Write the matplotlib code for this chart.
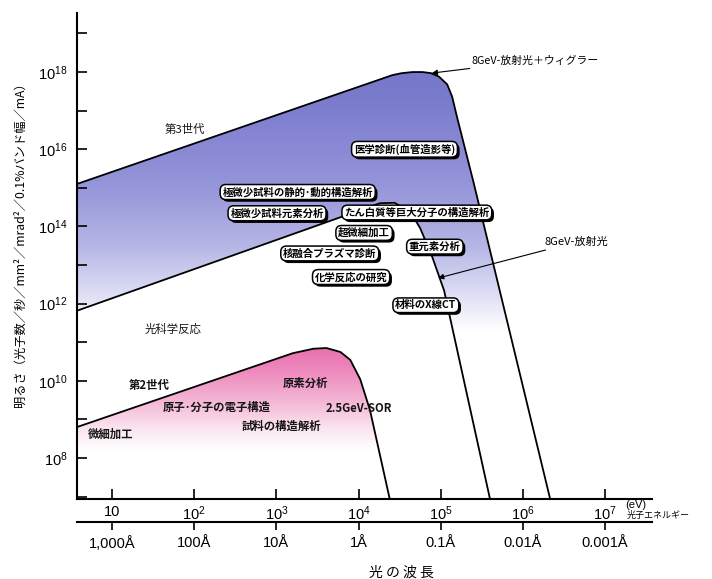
import numpy as np
import matplotlib
matplotlib.use("Agg")
import matplotlib.pyplot as plt
from matplotlib.patches import Polygon
from matplotlib import patheffects as pe
from matplotlib.ticker import FixedLocator, NullLocator

plt.rcParams['font.family'] = ['Noto Sans CJK JP', 'DejaVu Sans']
plt.rcParams['axes.unicode_minus'] = False

# ---------------- data ----------------
# 3rd generation: 8GeV radiation + wiggler (outer envelope)
gen3_outer_energy = [3.7, 25700, 33000, 45000, 60000, 75900, 95500, 120000, 138000, 158000, 191000, 251000, 2.29e6]
gen3_outer_bright = [1.25e15, 8.3e17, 9.3e17, 1.0e18, 1.0e18, 9.4e17, 7.6e17, 4.8e17, 2.3e17, 6.9e16, 1.4e16, 1.4e15, 5e6]
# 8GeV radiation (inner curve)
gen3_inner_energy = [3.7, 18200, 27500, 42700, 56200, 77600, 110000, 422000]
gen3_inner_bright = [6.5e11, 4.0e14, 4.1e14, 2.4e14, 9.1e13, 1.8e13, 2.2e12, 5e6]
# 2nd generation: 2.5GeV-SOR
gen2_energy = [3.7, 1580, 2820, 4070, 6030, 7940, 10500, 13800, 25700]
gen2_bright = [6.3e8, 5.2e10, 6.8e10, 7.1e10, 5.6e10, 3.5e10, 1.1e10, 1.74e9, 4.5e6]

energy_ticks = [1e1, 1e2, 1e3, 1e4, 1e5, 1e6, 1e7]
energy_labels = ['10', r'$\mathregular{10^2}$', r'$\mathregular{10^3}$', r'$\mathregular{10^4}$',
                 r'$\mathregular{10^5}$', r'$\mathregular{10^6}$', r'$\mathregular{10^7}$']
wavelength_labels = ['1,000Å', '100Å', '10Å', '1Å', '0.1Å', '0.01Å', '0.001Å']
bright_ticks = [1e7, 1e8, 1e9, 1e10, 1e11, 1e12, 1e13, 1e14, 1e15, 1e16, 1e17, 1e18, 1e19]
bright_labels = ['', r'$\mathregular{10^8}$', '', r'$\mathregular{10^{10}}$', '', r'$\mathregular{10^{12}}$', '',
                 r'$\mathregular{10^{14}}$', '', r'$\mathregular{10^{16}}$', '', r'$\mathregular{10^{18}}$', '']

boxed_labels = ['医学診断(血管造影等)', '極微少試料の静的･動的構造解析', '極微少試料元素分析',
                'たん白質等巨大分子の構造解析', '超微細加工', '核融合プラズマ診断', '重元素分析',
                '化学反応の研究', '材料のX線CT']
boxed_x = [36300, 1820, 1020, 51300, 11700, 4470, 85000, 8130, 66000]
boxed_y = [1.0e16, 7.8e14, 2.2e14, 2.3e14, 6.8e13, 2.0e13, 3.0e13, 4.9e12, 9.1e11]

plain_labels = ['第3世代', '光科学反応', '第2世代', '原素分析', '原子･分子の電子構造', '2.5GeV-SOR',
                '試料の構造解析', '微細加工']
plain_x = [77, 55, 28, 2290, 191, 10200, 1170, 9.5]
plain_y = [3.2e16, 2.2e11, 7.4e9, 8.7e9, 2.1e9, 1.9e9, 6.8e8, 4.2e8]
plain_bold = [False, False, True, True, True, True, True, True]

# ---------------- figure ----------------
W, H = 712, 579
fig = plt.figure(figsize=(W / 100, H / 100), dpi=100)
ax = fig.add_axes([77 / W, 1 - 499 / H, (652 - 77) / W, (499 - 13) / H])
ax.set_xscale('log')
ax.set_yscale('log')
xlo, xhi = 10 ** 0.574, 10 ** 7.572
ylo, yhi = 10 ** 6.94, 10 ** 19.53
ax.set_xlim(xlo, xhi)
ax.set_ylim(ylo, yhi)
ax.set_autoscale_on(False)


def gradient(stops, poly_x, poly_y):
    ly = np.log10(ylo) + np.linspace(0, 1, 400) * (np.log10(yhi) - np.log10(ylo))
    sl = np.array([s[0] for s in stops])
    cols = np.array([s[1] for s in stops], dtype=float) / 255.0
    rgb = np.stack([np.interp(ly, sl, cols[:, k]) for k in range(3)], axis=-1)
    img = rgb[:, None, :]
    patch = Polygon(np.column_stack([poly_x, poly_y]), closed=True, transform=ax.transData,
                    facecolor='none', edgecolor='none')
    ax.add_patch(patch)
    im = ax.imshow(img, extent=[0, 1, 0, 1], transform=ax.transAxes, origin='lower',
                   aspect='auto', interpolation='bilinear', zorder=1)
    im.set_clip_path(patch)


blue_stops = [(11.3, (255, 255, 255)), (12.3, (220, 220, 244)), (13.5, (182, 182, 230)),
              (15.0, (150, 150, 218)), (17.0, (126, 126, 207)), (18.5, (114, 114, 200))]
pink_stops = [(8.2, (255, 255, 255)), (8.8, (250, 226, 239)), (9.5, (244, 180, 212)),
              (10.3, (237, 135, 188)), (11.0, (230, 108, 172))]

gradient(blue_stops, gen3_outer_energy + gen3_inner_energy[::-1],
         gen3_outer_bright + gen3_inner_bright[::-1])
gradient(pink_stops, gen2_energy + [3.7], gen2_bright + [5e6])

for ex, by in [(gen3_outer_energy, gen3_outer_bright), (gen3_inner_energy, gen3_inner_bright),
               (gen2_energy, gen2_bright)]:
    ax.plot(ex, by, color='black', lw=1.3, zorder=3, solid_joinstyle='round')

# axes styling
for s in ['top', 'right']:
    ax.spines[s].set_visible(False)
ax.spines['left'].set_linewidth(1.5)
ax.spines['bottom'].set_linewidth(1.5)
ax.xaxis.set_major_locator(FixedLocator(energy_ticks))
ax.xaxis.set_minor_locator(NullLocator())
ax.set_xticklabels(energy_labels, fontfamily='Liberation Sans', fontsize=10.5)
ax.yaxis.set_major_locator(FixedLocator(bright_ticks))
ax.yaxis.set_minor_locator(NullLocator())
ax.set_yticklabels(bright_labels, fontfamily='Liberation Sans', fontsize=10.5)
ax.tick_params(axis='both', direction='in', length=7, width=1.2)
ax.tick_params(axis='x', pad=4)
ax.tick_params(axis='y', pad=7)

sec = ax.secondary_xaxis(-0.0473)
sec.set_xticks(energy_ticks)
sec.set_xticklabels(wavelength_labels, fontfamily='Liberation Sans', fontsize=10.5)
sec.xaxis.set_minor_locator(NullLocator())
sec.tick_params(axis='x', direction='out', length=6, width=1.2, pad=4)
sec.spines['bottom'].set_linewidth(1.5)

# boxed labels with drop shadow on the frame
shadow = [pe.SimplePatchShadow(offset=(1.6, -1.6), shadow_rgbFace='black', alpha=1.0), pe.Normal()]
for s, x, y in zip(boxed_labels, boxed_x, boxed_y):
    t = ax.text(x, y, s, ha='center', va='center', fontsize=7.5, fontweight='bold', color='black',
                zorder=6, bbox=dict(boxstyle='round,pad=0.22,rounding_size=0.55', lw=1.1,
                                    fc='white', ec='black'))
    t.get_bbox_patch().set_path_effects(shadow)

for s, x, y, b in zip(plain_labels, plain_x, plain_y, plain_bold):
    ax.text(x, y, s, ha='center', va='center', fontsize=8.2, fontweight='bold' if b else 'normal',
            color='#151515', zorder=6)

arrow = dict(arrowstyle='-|>', color='black', lw=0.8, mutation_scale=8, shrinkA=1, shrinkB=0)
ax.annotate('8GeV-放射光＋ウィグラー', xy=(78000, 9.4e17), xytext=(240000, 2.0e18),
            ha='left', va='center', fontsize=7.8, arrowprops=arrow, zorder=6)
ax.annotate('8GeV-放射光', xy=(93000, 4.6e12), xytext=(1.86e6, 4.0e13),
            ha='left', va='center', fontsize=8, arrowprops=arrow, zorder=6)

fig.text(625 / W, 1 - 505 / H, '(eV)', fontsize=8, ha='left', va='center', family='Liberation Sans')
fig.text(627 / W, 1 - 515 / H, '光子エネルギー', fontsize=6.5, ha='left', va='center')
fig.text(401 / W, 1 - 573 / H, '光 の 波 長', fontsize=10, ha='center', va='center')

# y label, sized to span the same height as in the reference
ylab = fig.text(20 / W, 1 - 242 / H, '明るさ（光子数／秒／mm²／mrad²／0.1%バンド幅／mA）',
                rotation=90, fontsize=9, ha='center', va='center')
renderer = fig.canvas.get_renderer()
h = ylab.get_window_extent(renderer).height
ylab.set_fontsize(9 * 330 / h)

fig.savefig('out.png', dpi=100)
